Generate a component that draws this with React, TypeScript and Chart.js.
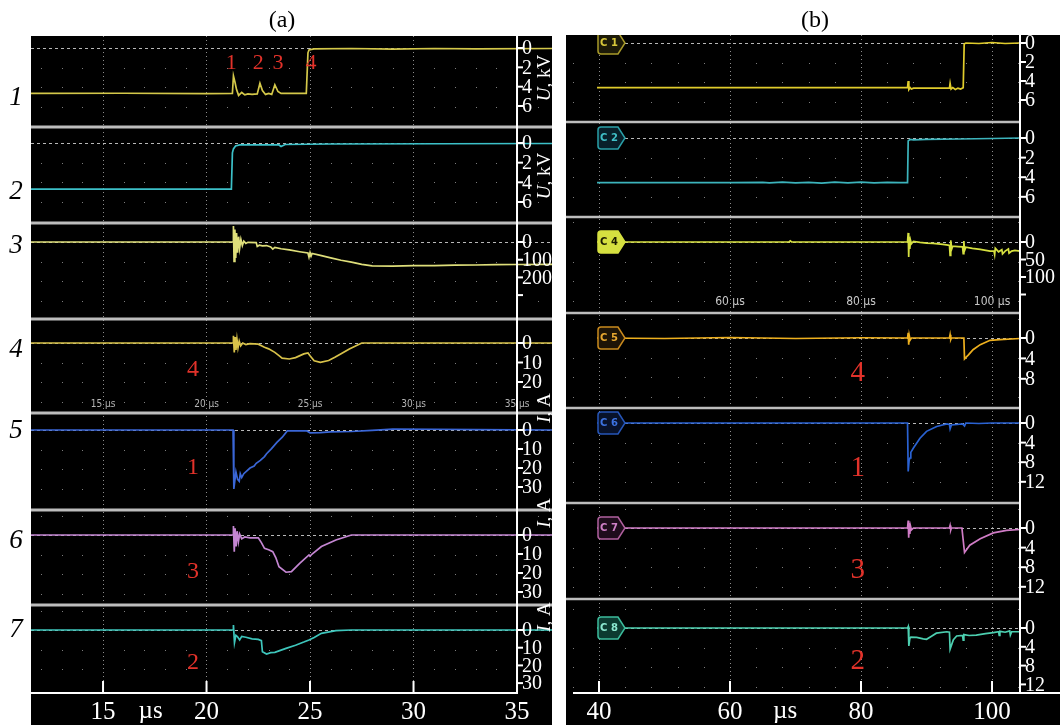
import React, { useEffect, useRef } from 'react';
import { Chart, registerables } from 'chart.js';

Chart.register(...registerables);

type Pt = [number, number];

const SERIF = '"Liberation Serif", "Times New Roman", serif';
const NARROW = '"Liberation Sans Narrow", "DejaVu Sans Condensed", "Liberation Sans", sans-serif';

// ---------- time axes (µs) ----------
const A_TIME_LABELS = [15, 20, 25, 30, 35];
const B_TIME_LABELS = [40, 60, 80, 100];

// ---------- per-channel scale ticks ----------
const TICKS_KV = [0, 2, 4, 6];
const TICKS_A3 = [0, 100, 200, 300];
const LABELS_A3 = [0, 100, 200];
const TICKS_A4 = [0, 10, 20];
const TICKS_I30 = [0, 10, 20, 30];
const TICKS_B4 = [0, 50, 100, 150];
const LABELS_B4 = [0, 50, 100];
const TICKS_B5 = [0, 4, 8];
const TICKS_I12 = [0, 4, 8, 12];

// ---------- panel (a) traces: [t µs, value] ----------
const A_U1: Pt[] = [
  [11.5, 4.7], [16, 4.68], [20, 4.72], [21.25, 4.7], [21.3, 2.9], [21.38, 3.6], [21.45, 4.3], [21.55, 4.9],
  [21.7, 4.6], [21.85, 4.85], [22.0, 4.75], [22.2, 4.8], [22.45, 4.75], [22.58, 3.65], [22.7, 4.4],
  [22.85, 4.8], [23.0, 4.7], [23.15, 4.8], [23.3, 3.8], [23.45, 4.5], [23.6, 4.7], [24.0, 4.7],
  [24.82, 4.7], [24.9, 0.5], [24.95, 0.2], [25.2, 0.1], [27, 0.05], [29, 0.12], [31, 0.05], [33, 0.1], [36.7, 0.05],
];
const A_U2: Pt[] = [
  [11.5, 4.7], [21.2, 4.7], [21.25, 1.0], [21.3, 0.6], [21.4, 0.3], [21.6, 0.2], [23.5, 0.2],
  [23.6, 0.35], [23.8, 0.15], [26, 0.1], [36.7, 0.05],
];
const A_I3: Pt[] = [
  [11.5, 0], [21.28, 0], [21.3, -90], [21.33, 110], [21.37, -70], [21.41, 90], [21.45, -50], [21.5, 60],
  [21.55, -30], [21.6, 35], [21.66, -15], [21.73, 20], [21.8, -5], [21.9, 8], [22.0, 2], [22.4, 3],
  [22.45, 25], [22.55, 18], [22.7, 22], [22.9, 20], [23.1, 28], [23.2, 40], [23.3, 30], [23.6, 38],
  [24.0, 45], [24.5, 55], [24.9, 62], [24.95, 85], [25.0, 60], [25.05, 80], [25.1, 65], [25.5, 76],
  [26.0, 90], [26.5, 103], [27.0, 114], [27.5, 126], [28.0, 135], [29, 136], [30, 134], [31, 133],
  [32, 131], [33, 130], [34, 128], [35, 127], [36.7, 126],
];
const A_I4: Pt[] = [
  [11.5, 0], [21.28, 0], [21.3, -3.7], [21.34, 4.8], [21.38, -3], [21.42, 3.5], [21.47, -2], [21.52, 2.5],
  [21.58, -1], [21.65, 1.5], [21.75, 0], [21.9, 0.8], [22.1, 0.3], [22.5, 0.6], [22.8, 2.2], [23.0, 3],
  [23.3, 4.8], [23.5, 6.5], [23.65, 7.8], [24.0, 8.2], [24.3, 7.5], [24.7, 5.6], [24.9, 5.1], [25.0, 6.5],
  [25.2, 9.1], [25.5, 9.9], [25.9, 9.0], [26.2, 7.3], [26.5, 5.5], [26.9, 3.1], [27.2, 1.5], [27.5, 0], [36.7, 0],
];
const A_I5: Pt[] = [
  [11.5, 0], [21.28, 0], [21.32, 31], [21.42, 22], [21.5, 26], [21.58, 27], [21.63, 23], [21.7, 25],
  [21.8, 23], [22.1, 20], [22.3, 19], [22.4, 17.5], [22.6, 16], [22.8, 14], [22.9, 12.5], [23.14, 9.8],
  [23.4, 6.5], [23.66, 3.8], [23.9, 0.5], [24.85, 0.5], [25.0, 1.5], [25.5, 1.4], [26.0, 1.0], [27, 0.8],
  [28, 0.2], [29, -0.5], [31, -0.4], [33, -0.2], [36.7, 0],
];
const A_I6: Pt[] = [
  [11.5, 0], [21.28, 0], [21.3, -4.7], [21.34, 8.8], [21.38, -3.5], [21.43, 6], [21.48, -2], [21.54, 3.5],
  [21.6, -0.5], [21.7, 2], [21.85, 1], [22.1, 1.5], [22.5, 1.5], [22.65, 4], [22.8, 7], [23.0, 7.8],
  [23.2, 8.8], [23.35, 12], [23.5, 16.7], [23.84, 19.6], [24.1, 19.3], [24.5, 14.9], [24.95, 10.5],
  [25.0, 11.2], [25.1, 10.0], [25.55, 6.1], [26.25, 2.6], [26.85, 0.5], [27, 0], [36.7, 0],
];
const A_I7: Pt[] = [
  [11.5, 0], [21.28, 0], [21.3, -2.8], [21.35, 7.2], [21.42, 3.0], [21.5, 3.8], [21.6, 5.6], [21.7, 3.6],
  [21.9, 4.1], [22.2, 5.0], [22.5, 5.3], [22.65, 6], [22.7, 12.3], [22.9, 13.6], [23.1, 12.8], [23.3, 12.6],
  [23.5, 11.8], [23.84, 10.4], [24.3, 8.6], [24.7, 6.8], [24.95, 5.6], [25.2, 4.2], [25.55, 1.9],
  [26.25, 0.4], [27, 0], [36.7, 0],
];

// ---------- panel (b) traces ----------
const B_C1: Pt[] = [
  [39.7, 4.7], [87.1, 4.7], [87.2, 4.0], [87.3, 4.9], [87.5, 4.7], [87.7, 4.85], [88, 4.75], [93.5, 4.75],
  [93.6, 4.25], [93.75, 4.85], [94, 4.7], [94.4, 4.9], [94.8, 4.75], [95.2, 4.85], [95.6, 4.7], [95.75, 0.1],
  [96, 0.0], [98, 0.05], [100, -0.05], [102, 0.05], [104.3, 0],
];
const B_C2: Pt[] = [
  [39.7, 4.55], [60, 4.55], [65, 4.52], [66, 4.58], [68, 4.5], [70, 4.58], [72, 4.52], [74, 4.6], [76, 4.5],
  [78, 4.57], [80, 4.5], [82, 4.58], [84, 4.52], [86, 4.55], [87.1, 4.55], [87.2, 0.3], [87.5, 0.15],
  [88, 0.2], [90, 0.15], [95, 0.1], [100, 0.05], [104.3, 0],
];
const B_C4: Pt[] = [
  [39.7, 0], [69.0, 0], [69.2, -3], [69.4, 0], [87.1, 0], [87.2, -26], [87.28, 43], [87.36, -15],
  [87.45, 20], [87.55, -5], [87.7, 5], [88, -2], [89, 1], [90, 3], [91, 4], [92.5, 7], [93.3, 9],
  [93.5, 10], [93.6, 38], [93.7, -5], [93.85, 20], [94, 12], [94.8, 13], [95.5, 14], [95.6, 33],
  [95.7, -3], [95.8, 25], [96, 15], [97, 18], [98.2, 21], [99.7, 26], [100.3, 26], [100.4, 36],
  [100.5, 18], [101, 28], [101.5, 22], [101.6, 34], [102, 26], [102.5, 20], [102.6, 32], [103, 26],
  [103.5, 24], [104.3, 26],
];
const B_C5: Pt[] = [
  [39.7, 0], [50, 0.1], [60, -0.1], [70, 0.1], [80, -0.05], [87.1, 0], [87.2, -1], [87.28, 1.3],
  [87.36, -0.5], [87.5, 0.4], [87.7, 0], [93.5, 0], [93.6, -0.65], [93.7, 0.3], [93.8, 0], [95.7, 0],
  [95.8, 4.1], [96.4, 3.3], [97.1, 2.3], [98.2, 1.3], [99.7, 0.45], [101.2, 0.3], [104.3, 0.1],
];
const B_C6: Pt[] = [
  [39.7, 0], [87.1, 0], [87.2, 9.9], [87.35, 7.5], [87.5, 7.1], [87.6, 6.0], [88, 5.1], [89, 3.1],
  [90, 1.7], [91.55, 0.7], [93.1, 0.2], [93.5, 0.3], [93.6, 1.2], [93.8, 0.4], [95.5, 0.2], [95.8, 0.6],
  [96, 0], [98, 0.1], [100, 0], [104.3, 0],
];
const B_C7: Pt[] = [
  [39.7, 0], [87.1, 0], [87.2, -1.5], [87.28, 2], [87.36, -1], [87.45, 1.2], [87.55, -0.4], [87.7, 0.4],
  [88, 0], [93.5, 0], [93.6, -0.5], [93.7, 0.4], [93.8, 0], [95.4, 0], [95.8, 5], [96.6, 3.5],
  [98.2, 2.2], [100.2, 1], [102.2, 0.5], [104.3, 0.3],
];
const B_C8: Pt[] = [
  [39.7, 0], [87.1, 0], [87.2, -0.3], [87.3, 3.8], [87.45, 2.2], [87.6, 1.95], [88.5, 2.0], [89.5, 2.3],
  [90, 2.4], [90.7, 1.8], [91.5, 1.1], [93.1, 0.8], [93.5, 0.9], [93.6, 4.5], [94.1, 2.5], [94.6, 1.7],
  [95.5, 1.6], [95.6, 2.6], [95.7, 1.4], [96.5, 1.6], [97.6, 1.5], [99, 1.2], [100.2, 1.0], [101, 0.8],
  [101.1, 1.6], [101.2, 0.7], [102, 0.9], [102.7, 0.6], [102.8, 1.5], [103, 0.8], [104.3, 0.8],
];

// ---------- layout ----------
interface Badge { text: string; stroke: string; fill: string; ink: string }
interface Strip {
  id: string; data: Pt[]; color: string;
  top: number; bottom: number; zero: number; ppu: number;
  ticks: number[]; labels: number[]; badge?: Badge;
}
interface Note { text: string; t: number; strip: string; v: number; size: number }
interface Panel {
  name: string; left: number; width: number;
  area: { left: number; right: number; top: number; bottom: number };
  black: { x0: number; x1: number; y0: number };
  tMin: number; tMax: number; gridTicks: number[]; timeLabels: number[]; microAt: number;
  axisT: number | null; baseX0: number; baseX1: number;
  sepX1: number; sepWidth: number; dashX0: number;
  strips: Strip[]; notes: Note[];
  smallLabels: { t: number; y: number; size: number; color: string }[];
  title: { text: string; x: number };
}

function range(a: number, b: number, step: number) {
  const out: number[] = [];
  for (let v = a; v <= b + 1e-9; v += step) out.push(v);
  return out;
}

const PANEL_A: Panel = {
  name: 'a', left: 0, width: 560,
  area: { left: 31, right: 552, top: 36, bottom: 693 },
  black: { x0: 31, x1: 552, y0: 36 },
  tMin: 11.52, tMax: 36.69, gridTicks: range(12, 36, 1), timeLabels: A_TIME_LABELS, microAt: 17.3,
  axisT: 35, baseX0: 31, baseX1: -1,
  sepX1: 552, sepWidth: 3, dashX0: 31,
  strips: [
    { id: 'a1', data: A_U1, color: '#d4c84a', top: 36, bottom: 127, zero: 48, ppu: 9.67, ticks: TICKS_KV, labels: TICKS_KV },
    { id: 'a2', data: A_U2, color: '#3cc0c8', top: 127, bottom: 223, zero: 143, ppu: 9.83, ticks: TICKS_KV, labels: TICKS_KV },
    { id: 'a3', data: A_I3, color: '#dede7a', top: 223, bottom: 319, zero: 242, ppu: 0.177, ticks: TICKS_A3, labels: LABELS_A3 },
    { id: 'a4', data: A_I4, color: '#d8c24a', top: 319, bottom: 413, zero: 343, ppu: 1.95, ticks: TICKS_A4, labels: TICKS_A4 },
    { id: 'a5', data: A_I5, color: '#3a66d6', top: 413, bottom: 510, zero: 430, ppu: 1.9, ticks: TICKS_I30, labels: TICKS_I30 },
    { id: 'a6', data: A_I6, color: '#c486d2', top: 510, bottom: 605, zero: 535, ppu: 1.9, ticks: TICKS_I30, labels: TICKS_I30 },
    { id: 'a7', data: A_I7, color: '#3ec6bc', top: 605, bottom: 693, zero: 630, ppu: 1.77, ticks: TICKS_I30, labels: TICKS_I30 },
  ],
  notes: [
    { text: '1', t: 21.2, strip: 'a1', v: 1.55, size: 22 },
    { text: '2', t: 22.5, strip: 'a1', v: 1.55, size: 22 },
    { text: '3', t: 23.45, strip: 'a1', v: 1.55, size: 22 },
    { text: '4', t: 25.05, strip: 'a1', v: 1.55, size: 22 },
    { text: '4', t: 19.35, strip: 'a4', v: 13.8, size: 24 },
    { text: '1', t: 19.35, strip: 'a5', v: 20, size: 24 },
    { text: '3', t: 19.35, strip: 'a6', v: 19.5, size: 24 },
    { text: '2', t: 19.35, strip: 'a7', v: 18.6, size: 24 },
  ],
  smallLabels: A_TIME_LABELS.map((t) => ({ t, y: 404, size: 10, color: '#b4b4b4' })),
  title: { text: '(a)', x: 282 },
};

const PANEL_B: Panel = {
  name: 'b', left: 560, width: 500,
  area: { left: 6, right: 460, top: 35, bottom: 693 },
  black: { x0: 6, x1: 500, y0: 35 },
  tMin: 34.96, tMax: 104.27, gridTicks: range(36, 104, 4), timeLabels: B_TIME_LABELS, microAt: 68.4,
  axisT: null, baseX0: 13, baseX1: 500,
  sepX1: 460, sepWidth: 2.5, dashX0: 65,
  strips: [
    { id: 'b1', data: B_C1, color: '#e0cc2c', top: 35, bottom: 122, zero: 43, ppu: 9.5, ticks: TICKS_KV, labels: TICKS_KV,
      badge: { text: 'C1', stroke: '#a89a2a', fill: '#1c1a08', ink: '#d8c83a' } },
    { id: 'b2', data: B_C2, color: '#3cb4bc', top: 122, bottom: 217, zero: 138, ppu: 9.8, ticks: TICKS_KV, labels: TICKS_KV,
      badge: { text: 'C2', stroke: '#2aa0a8', fill: '#08202a', ink: '#40c0c8' } },
    { id: 'b4', data: B_C4, color: '#d6e040', top: 217, bottom: 313, zero: 242, ppu: 0.35, ticks: TICKS_B4, labels: LABELS_B4,
      badge: { text: 'C4', stroke: '#d6e040', fill: '#d6e040', ink: '#1a1a00' } },
    { id: 'b5', data: B_C5, color: '#eeb01e', top: 313, bottom: 408, zero: 338, ppu: 5.1, ticks: TICKS_B5, labels: TICKS_B5,
      badge: { text: 'C5', stroke: '#c98a1e', fill: '#1e1406', ink: '#e8a830' } },
    { id: 'b6', data: B_C6, color: '#2a62d2', top: 408, bottom: 503, zero: 423, ppu: 4.9, ticks: TICKS_I12, labels: TICKS_I12,
      badge: { text: 'C6', stroke: '#2656b8', fill: '#08122a', ink: '#3c72e0' } },
    { id: 'b7', data: B_C7, color: '#d07cc6', top: 503, bottom: 599, zero: 528, ppu: 4.9, ticks: TICKS_I12, labels: TICKS_I12,
      badge: { text: 'C7', stroke: '#b0609e', fill: '#1e0c1c', ink: '#d080c8' } },
    { id: 'b8', data: B_C8, color: '#4ccfb0', top: 599, bottom: 693, zero: 628, ppu: 4.7, ticks: TICKS_I12, labels: TICKS_I12,
      badge: { text: 'C8', stroke: '#3cbc9c', fill: '#0c3a30', ink: '#8ce8d0' } },
  ],
  notes: [
    { text: '4', t: 79.5, strip: 'b5', v: 6.9, size: 29 },
    { text: '1', t: 79.5, strip: 'b6', v: 9.2, size: 29 },
    { text: '3', t: 79.5, strip: 'b7', v: 8.6, size: 29 },
    { text: '2', t: 79.5, strip: 'b8', v: 7.2, size: 29 },
  ],
  smallLabels: [60, 80, 100].map((t) => ({ t, y: 302, size: 12, color: '#c8c8c8' })),
  title: { text: '(b)', x: 255 },
};

// channel numbers at the left of panel (a) and unit captions on its right
const A_CHANNEL_NAMES = ['1', '2', '3', '4', '5', '6', '7'];
const A_CHANNEL_Y = [98, 192, 246, 350, 431, 541, 630];
const A_UNITS: { main: string; rest: string; y: number }[] = [
  { main: 'U', rest: ', kV', y: 78 },
  { main: 'U', rest: ', kV', y: 176 },
  { main: 'I', rest: ', A', y: 408 },
  { main: 'I', rest: ', A', y: 513 },
  { main: 'I', rest: ', A', y: 617 },
];

function drawBadge(ctx: CanvasRenderingContext2D, x: number, y: number, b: Badge) {
  const w = 20, h = 22, tip = 7, r = 3;
  ctx.beginPath();
  ctx.moveTo(x + r, y - h / 2);
  ctx.lineTo(x + w, y - h / 2);
  ctx.lineTo(x + w + tip, y);
  ctx.lineTo(x + w, y + h / 2);
  ctx.lineTo(x + r, y + h / 2);
  ctx.quadraticCurveTo(x, y + h / 2, x, y + h / 2 - r);
  ctx.lineTo(x, y - h / 2 + r);
  ctx.quadraticCurveTo(x, y - h / 2, x + r, y - h / 2);
  ctx.closePath();
  ctx.fillStyle = b.fill;
  ctx.fill();
  ctx.lineWidth = 1.5;
  ctx.strokeStyle = b.stroke;
  ctx.stroke();
  ctx.fillStyle = b.ink;
  ctx.font = 'bold 10px "DejaVu Sans", sans-serif';
  ctx.textAlign = 'center';
  ctx.textBaseline = 'middle';
  ctx.fillText(b.text.split('').join(' '), x + w / 2 + 1, y + 0.5);
}

function makeDecor(p: Panel) {
  return {
    id: 'decor_' + p.name,
    beforeDraw(chart: any) {
      const ctx: CanvasRenderingContext2D = chart.ctx;
      const xs = chart.scales.x;
      ctx.save();
      ctx.fillStyle = '#ffffff';
      ctx.fillRect(0, 0, chart.width, chart.height);
      ctx.fillStyle = '#000000';
      ctx.fillRect(p.black.x0, p.black.y0, p.black.x1 - p.black.x0, chart.height - p.black.y0);

      // graticule dots
      ctx.fillStyle = '#7c7c7c';
      const rowStep = 19.5;
      for (const s of p.strips) {
        const z = chart.scales[s.id].getPixelForValue(0);
        for (let k = -6; k <= 6; k++) {
          if (k === 0) continue;
          const y = z + k * rowStep;
          if (y < s.top + 5 || y > s.bottom - 5) continue;
          for (const t of p.gridTicks) {
            if (p.timeLabels.includes(t)) continue;
            ctx.fillRect(Math.round(xs.getPixelForValue(t)), Math.round(y), 1, 1);
          }
        }
      }

      // dashed zero references
      ctx.strokeStyle = '#b8b8b8';
      ctx.lineWidth = 1;
      ctx.setLineDash([3, 3]);
      for (const s of p.strips) {
        const z = Math.round(chart.scales[s.id].getPixelForValue(0)) + 0.5;
        ctx.beginPath();
        ctx.moveTo(p.dashX0, z);
        ctx.lineTo(chart.chartArea.right, z);
        ctx.stroke();
      }
      ctx.setLineDash([]);

      // small on-screen time labels
      for (const l of p.smallLabels) {
        ctx.fillStyle = l.color;
        ctx.font = `${l.size}px ${NARROW}`;
        ctx.textAlign = 'center';
        ctx.textBaseline = 'middle';
        ctx.fillText(`${l.t} µs`, xs.getPixelForValue(l.t), l.y);
      }
      ctx.restore();
    },
    afterDatasetsDraw(chart: any) {
      const ctx: CanvasRenderingContext2D = chart.ctx;
      const xs = chart.scales.x;
      const area = chart.chartArea;
      const axisX = p.axisT === null ? area.right : xs.getPixelForValue(p.axisT);
      ctx.save();

      // slice separators
      ctx.strokeStyle = '#bdbdbd';
      ctx.lineWidth = p.sepWidth;
      for (let i = 1; i < p.strips.length; i++) {
        const y = p.strips[i].top;
        ctx.beginPath();
        ctx.moveTo(p.black.x0, y);
        ctx.lineTo(p.sepX1, y);
        ctx.stroke();
      }

      // badges
      ctx.save();
      ctx.beginPath();
      ctx.rect(p.black.x0, p.black.y0, p.black.x1 - p.black.x0, chart.height - p.black.y0);
      ctx.clip();
      for (const s of p.strips) {
        if (!s.badge) continue;
        drawBadge(ctx, 38, chart.scales[s.id].getPixelForValue(0), s.badge);
      }
      ctx.restore();

      // axis lines
      ctx.strokeStyle = '#ffffff';
      ctx.lineWidth = 2;
      ctx.beginPath();
      ctx.moveTo(axisX, area.top);
      ctx.lineTo(axisX, area.bottom + 1);
      ctx.stroke();
      const bx1 = p.baseX1 < 0 ? axisX : p.baseX1;
      ctx.beginPath();
      ctx.moveTo(p.baseX0, area.bottom);
      ctx.lineTo(bx1, area.bottom);
      ctx.stroke();
      for (const t of p.timeLabels) {
        const x = xs.getPixelForValue(t);
        ctx.beginPath();
        ctx.moveTo(x, area.bottom - 12);
        ctx.lineTo(x, area.bottom);
        ctx.stroke();
      }

      // per-slice value ticks and labels
      ctx.fillStyle = '#ffffff';
      ctx.font = `20px ${SERIF}`;
      ctx.textAlign = 'left';
      ctx.textBaseline = 'middle';
      for (const s of p.strips) {
        const sc = chart.scales[s.id];
        for (const v of s.ticks) {
          const y = sc.getPixelForValue(v);
          ctx.beginPath();
          ctx.moveTo(axisX, y);
          ctx.lineTo(axisX + 6, y);
          ctx.stroke();
          if (s.labels.includes(v)) ctx.fillText(String(v), axisX + 5, y + 1);
        }
      }

      // µs caption on the time axis
      ctx.font = `25px ${SERIF}`;
      ctx.textAlign = 'center';
      ctx.fillText('µs', xs.getPixelForValue(p.microAt), 711);

      // red pulse numbers
      ctx.fillStyle = '#e2322a';
      for (const n of p.notes) {
        ctx.font = `${n.size}px ${SERIF}`;
        ctx.fillText(n.text, xs.getPixelForValue(n.t), chart.scales[n.strip].getPixelForValue(n.v));
      }

      // title
      ctx.fillStyle = '#000000';
      ctx.font = `24px ${SERIF}`;
      ctx.textBaseline = 'alphabetic';
      ctx.fillText(p.title.text, p.title.x, 27);

      if (p.name === 'a') {
        ctx.font = `italic 27px ${SERIF}`;
        ctx.textBaseline = 'middle';
        A_CHANNEL_NAMES.forEach((name, i) => ctx.fillText(name, 16, A_CHANNEL_Y[i]));
        for (const u of A_UNITS) {
          ctx.save();
          ctx.translate(545, u.y);
          ctx.rotate(-Math.PI / 2);
          ctx.font = `italic 19px ${SERIF}`;
          const w1 = ctx.measureText(u.main).width;
          ctx.font = `19px ${SERIF}`;
          const w2 = ctx.measureText(u.rest).width;
          const x0 = -(w1 + w2) / 2;
          ctx.fillStyle = '#ffffff';
          ctx.textAlign = 'left';
          ctx.textBaseline = 'middle';
          ctx.font = `italic 19px ${SERIF}`;
          ctx.fillText(u.main, x0, 0);
          ctx.font = `19px ${SERIF}`;
          ctx.fillText(u.rest, x0 + w1, 0);
          ctx.restore();
        }
      }
      ctx.restore();
    },
  };
}

function buildConfig(p: Panel): any {
  const scales: any = {
    x: {
      type: 'linear',
      position: 'bottom',
      min: p.tMin,
      max: p.tMax,
      bounds: 'data',
      afterBuildTicks: (s: any) => {
        s.ticks = p.gridTicks.map((v) => ({ value: v }));
      },
      afterFit: (s: any) => {
        s.height = 725 - p.area.bottom;
      },
      ticks: {
        autoSkip: false,
        maxRotation: 0,
        minRotation: 0,
        padding: 4,
        color: '#ffffff',
        font: { family: SERIF, size: 25 },
        callback: (v: number) => (p.timeLabels.includes(v) ? String(v) : ''),
      },
      grid: {
        drawTicks: false,
        lineWidth: 1,
        color: (c: any) => (c.tick && p.timeLabels.includes(c.tick.value) ? '#8d8d8d' : 'rgba(0,0,0,0)'),
      },
      border: { display: false, dash: [1, 3] },
    },
  };
  const h = p.area.bottom - p.area.top;
  for (const s of p.strips) {
    const min = -(s.zero - p.area.top) / s.ppu;
    scales[s.id] = { type: 'linear', display: false, reverse: true, bounds: 'data', min, max: min + h / s.ppu };
  }
  return {
    type: 'line',
    data: {
      datasets: p.strips.map((s) => ({
        label: s.id,
        data: s.data.map(([x, y]) => ({ x, y })),
        yAxisID: s.id,
        borderColor: s.color,
        borderWidth: 1.7,
        pointRadius: 0,
        tension: 0,
        fill: false,
      })),
    },
    options: {
      responsive: false,
      animation: false,
      events: [],
      layout: { padding: { left: p.area.left, right: p.width - p.area.right, top: p.area.top, bottom: 0 } },
      plugins: { legend: { display: false }, tooltip: { enabled: false }, title: { display: false } },
      scales,
    },
    plugins: [makeDecor(p)],
  };
}

function PanelCanvas({ panel }: { panel: Panel }) {
  const ref = useRef<HTMLCanvasElement>(null);
  useEffect(() => {
    const chart = new Chart(ref.current as HTMLCanvasElement, buildConfig(panel));
    return () => chart.destroy();
  }, [panel]);
  return (
    <canvas
      ref={ref}
      width={panel.width}
      height={725}
      style={{ position: 'absolute', left: panel.left, top: 0, width: panel.width, height: 725 }}
    />
  );
}

export default function App() {
  return (
    <div style={{ position: 'fixed', left: 0, top: 0, width: 1060, height: 725, background: '#ffffff', overflow: 'hidden' }}>
      <PanelCanvas panel={PANEL_A} />
      <PanelCanvas panel={PANEL_B} />
    </div>
  );
}
